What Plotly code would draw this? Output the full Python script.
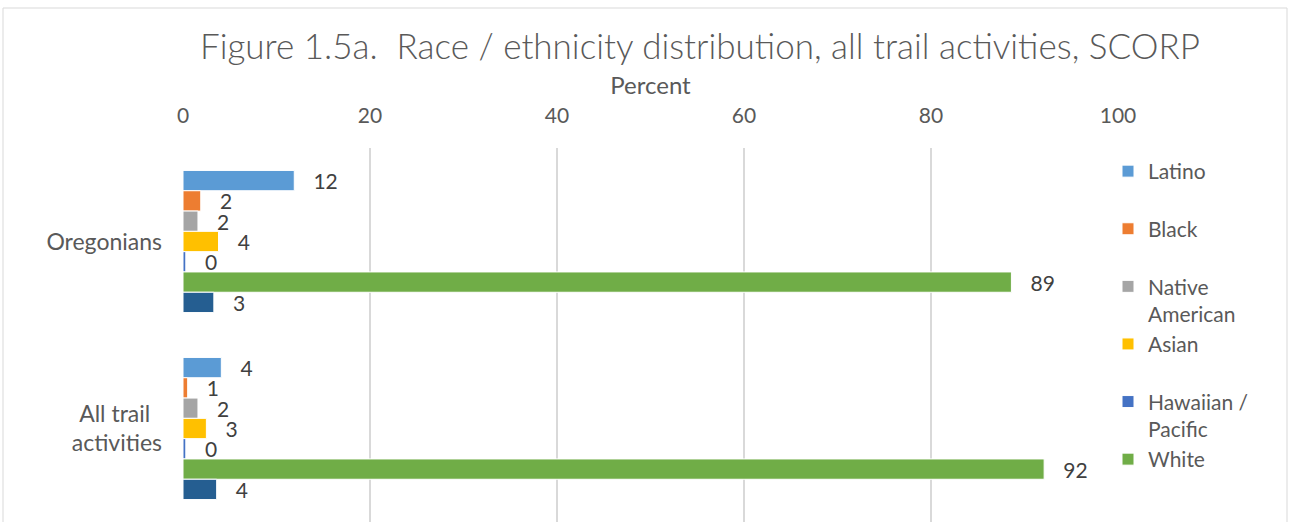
import plotly.graph_objects as go

categories = ["Oregonians", "All trail activities"]
tick_text = ["Oregonians", "All trail\u00a0\u00a0<br>activities"]

# every legend name spans two lines so the entries sit evenly spaced
series = ["Latino<br>\u00a0", "Black<br>\u00a0", "Native<br>American", "Asian<br>\u00a0",
          "Hawaiian /<br>Pacific", "White<br>\u00a0", "Other"]
colors = ["#5b9bd5", "#ed7d31", "#a5a5a5", "#ffc000", "#4472c4", "#70ad47", "#255e91"]

# percent of each group, Oregonians then all trail activities
latino = [11.9, 4.1]
black = [1.9, 0.5]
native = [1.6, 1.6]
asian = [3.8, 2.5]
hawaiian = [0.3, 0.3]
white = [88.6, 92.1]
other = [3.3, 3.6]

values = [latino, black, native, asian, hawaiian, white, other]

font = "Lato"
grey = "#595959"

fig = go.Figure()
for name, vals, col in zip(series, values, colors):
    fig.add_trace(go.Bar(
        y=categories,
        x=vals,
        name=name,
        orientation="h",
        marker=dict(color=col, line=dict(color="white", width=1)),
        texttemplate="\u00a0\u00a0\u00a0%{x:.0f}",
        textposition="outside",
        textfont=dict(size=21, color="#404040", family=font),
        constraintext="none",
        cliponaxis=False,
        showlegend=(name != "Other"),
        hoverinfo="x",
    ))

fig.update_layout(
    width=1289,
    height=522,
    margin=dict(l=183, r=171, t=148, b=0),
    paper_bgcolor="white",
    plot_bgcolor="white",
    barmode="group",
    bargap=0.24,
    bargroupgap=0,
    font=dict(family=font, color=grey, size=21),
    title=dict(
        text="Figure 1.5a.  Race / ethnicity distribution, all trail activities, SCORP",
        x=700 / 1289,
        xanchor="center",
        y=1 - 47 / 522,
        yanchor="middle",
        font=dict(size=35, color=grey, family=font, weight=300),
    ),
    xaxis=dict(
        side="top",
        range=[0, 100],
        dtick=20,
        showgrid=True,
        gridcolor="#d9d9d9",
        gridwidth=1.5,
        zeroline=False,
        showline=False,
        ticklabelstandoff=20,
        tickfont=dict(size=21, color=grey),
        title=dict(text="Percent", font=dict(size=24, color=grey), standoff=0),
    ),
    yaxis=dict(
        categoryorder="array",
        categoryarray=categories,
        tickvals=categories,
        ticktext=tick_text,
        autorange="reversed",
        showgrid=False,
        ticklabelstandoff=20,
        tickfont=dict(size=23, color=grey),
    ),
    legend=dict(
        x=1.0 - 10 / 935,
        xanchor="left",
        y=1 - 3 / 374,
        yanchor="top",
        valign="top",
        font=dict(size=21, color=grey),
        bgcolor="rgba(0,0,0,0)",
    ),
    shapes=[dict(
        type="rect", xref="paper", yref="paper",
        x0=-180 / 935, x1=1104 / 935, y0=-0.05, y1=514 / 374,
        line=dict(color="#d9d9d9", width=1),
        fillcolor="rgba(0,0,0,0)", layer="below",
    )],
)

fig.write_html(
    "out.html",
    config={"displayModeBar": False},
    post_script="document.body.style.margin='0';document.body.style.overflow='hidden';",
)
